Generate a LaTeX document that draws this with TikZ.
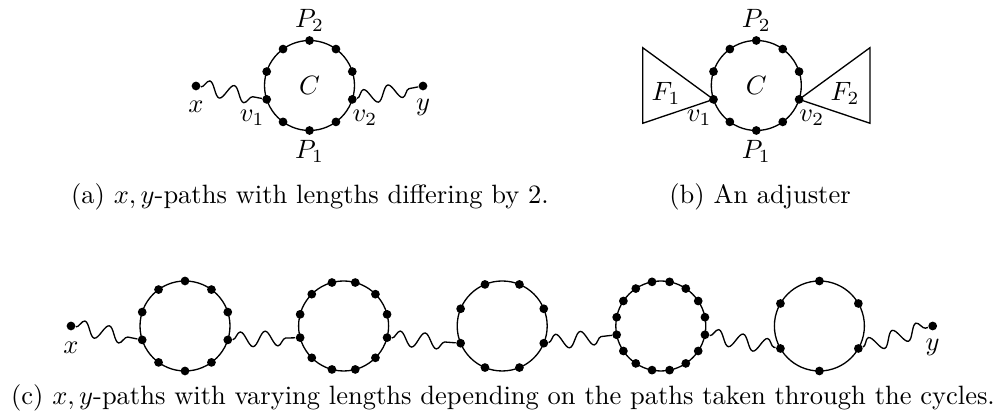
\documentclass[tikz,border=0pt]{standalone}
\usepackage{amsmath}
\usetikzlibrary{
  calc,
  positioning,
  decorations.pathmorphing
}
\tikzset{
  vtx/.style={circle, fill=black, inner sep=0pt, minimum size=3.3pt},
  cyc/.style={line width=0.5pt},
  wavy/.style={line width=0.5pt, decorate, decoration={snake, amplitude=1mm, segment length=3.3mm}},
  lbl/.style={inner sep=1pt, on grid},
  captext/.style={anchor=base, inner sep=0pt}
}

\begin{document}
\begin{tikzpicture}[x=0.3774pt, y=0.3774pt]
  \useasboundingbox (0,0) rectangle (997,420);

  % (a) two x,y-paths through C
  \coordinate (a) at (309.5,334.5);
  \draw[cyc] (a) circle (45);
  \foreach \i in {1,...,10}
    \node[vtx] (a-\i) at ($(a)+({36*(\i-0.5)}:45)$) {};
  \node[vtx] (ax) at (196,334) {};
  \node[vtx] (ay) at (423,334) {};
  \draw[wavy] (ax) -- (a-6);
  \draw[wavy] (a-10) -- (ay);
  \node[lbl] at (a) {$C$};
  \node[lbl, below=8pt of ax] {$x$};
  \node[lbl, below=8pt of ay] {$y$};
  \node[lbl, below left=7pt and 5.5pt of a-6] {$v_1$};
  \node[lbl, below right=7pt and 4.8pt of a-10] {$v_2$};
  \node[lbl, above=7.7pt of a-3] {$P_2$};
  \node[lbl, below=8pt of a-8] {$P_1$};
  \node[captext] at (310,216.7) {(a) $x,y$-paths with lengths differing by 2.};

  % (b) an adjuster
  \coordinate (b) at (756.3,334.5);
  \draw[cyc] (b) circle (45);
  \foreach \i in {1,...,10}
    \node[vtx] (b-\i) at ($(b)+({36*(\i-0.5)}:45)$) {};
  \coordinate (f1t) at (642.7,372.3);
  \coordinate (f1b) at (642.7,296.7);
  \coordinate (f2t) at (870,372.3);
  \coordinate (f2b) at (870,296.7);
  \draw[cyc] (b-6.center) -- (f1t) -- (f1b) -- cycle;
  \draw[cyc] (b-10.center) -- (f2t) -- (f2b) -- cycle;
  \node[lbl] at (b) {$C$};
  \node[lbl] at (666,326.7) {$F_1$};
  \node[lbl] at (845,326.7) {$F_2$};
  \node[lbl, below left=7pt and 5.4pt of b-6] {$v_1$};
  \node[lbl, below right=7pt and 4.8pt of b-10] {$v_2$};
  \node[lbl, above=7.7pt of b-3] {$P_2$};
  \node[lbl, below=8pt of b-8] {$P_1$};
  \node[captext] at (760,216.7) {(b) An adjuster};

  % (c) chain of cycles
  \foreach \k/\nd in {1/10, 2/12, 3/8, 4/16, 5/6} {
    \coordinate (c\k) at ({185+158.6*(\k-1)},94);
    \draw[cyc] (c\k) circle (45);
    \pgfmathsetmacro\st{360/\nd}
    \foreach \i in {1,...,\nd}
      \node[vtx] (c\k-\i) at ($(c\k)+({\st*(\i-0.5)}:45)$) {};
  }
  \node[vtx] (cx) at (71,94) {};
  \node[vtx] (cy) at (932.7,94) {};
  \draw[wavy] (cx) -- (c1-6);
  \draw[wavy] (c1-10) -- (c2-7);
  \draw[wavy] (c2-12) -- (c3-5);
  \draw[wavy] (c3-8) -- (c4-9);
  \draw[wavy] (c4-16) -- (c5-4);
  \draw[wavy] (c5-6) -- (cy);
  \node[lbl, below=8.2pt of cx] {$x$};
  \node[lbl, below=8.2pt of cy] {$y$};
  \node[captext] at (503,15.7)
    {(c) $x,y$-paths with varying lengths depending on the paths taken through the cycles.};
\end{tikzpicture}
\end{document}
